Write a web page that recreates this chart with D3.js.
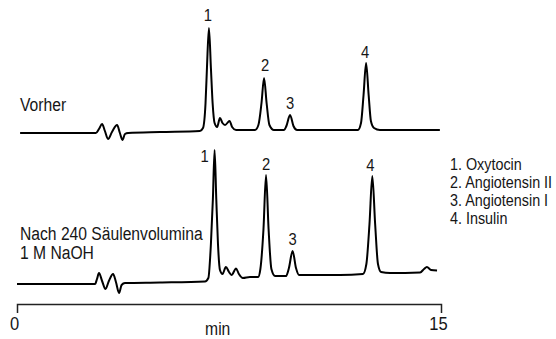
<!DOCTYPE html>
<html>
<head>
<meta charset="utf-8">
<script src="https://cdn.jsdelivr.net/npm/d3@7"></script>
<style>
  body { margin: 0; background: #fff; }
  text { font-family: "Liberation Sans", Arial, sans-serif; fill: #161616; }
</style>
</head>
<body>
<svg id="chart" width="556" height="339"></svg>
<script>
// retention time (min) and detector signal (arbitrary units, 0 = baseline)
const topTimes = [0.11, 1.52, 2.79, 2.90, 3.01, 3.11, 3.22, 3.36, 3.54, 3.64, 3.73, 3.82, 3.93, 5.06,
  6.47, 6.58, 6.67, 6.72, 6.79, 6.86, 6.92, 6.99, 7.08, 7.18, 7.27, 7.36, 7.52, 7.61, 7.75,
  8.42, 8.54, 8.65, 8.74, 8.83, 8.93, 9.09, 9.45, 9.53, 9.66, 9.78, 9.91, 11.43,
  12.06, 12.17, 12.26, 12.35, 12.44, 12.52, 12.63, 12.84, 14.96];
const topSignal = [0, 0, 0, 4, 9, 2, -6, 1, 8, 0, -7, -1, 0, 1,
  2, 5, 30, 65, 105, 65, 30, 10, 6, 15, 10, 8, 12, 6, 3,
  3, 8, 30, 55, 30, 8, 3, 3, 7, 18, 7, 3, 3,
  3, 10, 38, 70, 38, 12, 5, 3, 3];

const bottomTimes = [0, 1.52, 2.76, 2.83, 2.90, 3.01, 3.13, 3.25, 3.40, 3.50, 3.61, 3.70, 3.82, 5.06,
  6.65, 6.77, 6.86, 6.93, 6.99, 7.05, 7.11, 7.18, 7.27, 7.39, 7.50, 7.59, 7.75, 7.85, 7.99,
  8.24, 8.53, 8.61, 8.72, 8.81, 8.90, 9.00, 9.13, 9.52, 9.62, 9.75, 9.87, 9.98, 11.43,
  12.24, 12.36, 12.47, 12.57, 12.67, 12.77, 12.88, 13.20, 14.26, 14.40, 14.50, 14.65, 14.86];
const bottomSignal = [0, 0, 0, 5, 11, 3, -5, 3, 10, 2, -9, -1, 1, 1.5,
  2.5, 6, 40, 85, 134, 85, 40, 14, 10, 17, 12, 9, 15.5, 10, 6,
  7, 7, 15, 55, 109, 55, 15, 8, 8, 16, 33, 16, 9, 9,
  10, 20, 60, 108, 60, 20, 12, 11, 11.5, 15, 17, 14, 13.5];

const peakNumbers = ['1', '2', '3', '4'];
const topPeakTimes = [6.79, 8.74, 9.66, 12.35];
const topPeakHeights = [105, 55, 18, 70];
const bottomPeakTimes = [6.99, 8.81, 9.75, 12.57];
const bottomPeakHeights = [134, 109, 33, 108];

const compounds = ['Oxytocin', 'Angiotensin II', 'Angiotensin I', 'Insulin'];
const xTicks = [0, 15];

const narrow = 0.87; // squeeze text to a condensed face

const svg = d3.select('#chart');

const x = d3.scaleLinear().domain([0, 15]).range([17, 441]);
const yTop = d3.scaleLinear().domain([0, 105]).range([133, 28]);
const yBottom = d3.scaleLinear().domain([0, 134]).range([284, 150]);

function addText(parent, px, py, str, size, anchor) {
  return parent.append('text')
    .attr('transform', 'translate(' + px + ',' + py + ') scale(' + narrow + ',1)')
    .attr('text-anchor', anchor || 'start')
    .style('font-size', size + 'px')
    .text(str);
}

function drawTrace(times, signal, y) {
  const line = d3.line()
    .x(d => x(d[0]))
    .y(d => y(d[1]))
    .curve(d3.curveMonotoneX);
  svg.append('path')
    .datum(d3.zip(times, signal))
    .attr('d', line)
    .attr('fill', 'none')
    .attr('stroke', '#000')
    .attr('stroke-width', 2)
    .attr('stroke-linejoin', 'round');
}

drawTrace(topTimes, topSignal, yTop);
drawTrace(bottomTimes, bottomSignal, yBottom);

// peak numbers
function drawPeakLabels(times, heights, y, offsets) {
  peakNumbers.forEach((n, i) => {
    addText(svg, x(times[i]) + offsets[i][0], y(heights[i]) + offsets[i][1], n, 17, 'middle');
  });
}
drawPeakLabels(topPeakTimes, topPeakHeights, yTop, [[-1, -7], [1, -7], [0, -6], [-1, -5]]);
drawPeakLabels(bottomPeakTimes, bottomPeakHeights, yBottom, [[-10, 12], [0, -5], [0, -6], [-2, -5]]);

// trace captions
addText(svg, 20, 111, 'Vorher', 18);
addText(svg, 20, 240, 'Nach 240 Säulenvolumina', 18);
addText(svg, 20, 259, '1 M NaOH', 18);

// legend
compounds.forEach((c, i) => {
  addText(svg, 450, 170 + i * 18, peakNumbers[i] + '. ' + c, 16.5);
});

// time axis
const axis = svg.append('g')
  .attr('transform', 'translate(0,304)')
  .call(d3.axisBottom(x).tickValues(xTicks).tickSize(0).tickSizeOuter(9).tickPadding(13));
axis.select('.domain').attr('stroke', '#222').attr('stroke-width', 1.5);
axis.selectAll('.tick text')
  .style('font-size', '19px')
  .style('font-family', null)
  .attr('fill', '#161616')
  .attr('transform', 'translate(-3,0) scale(' + narrow + ',1)');
addText(axis, x(7.1), 31, 'min', 18, 'middle');
</script>
</body>
</html>
